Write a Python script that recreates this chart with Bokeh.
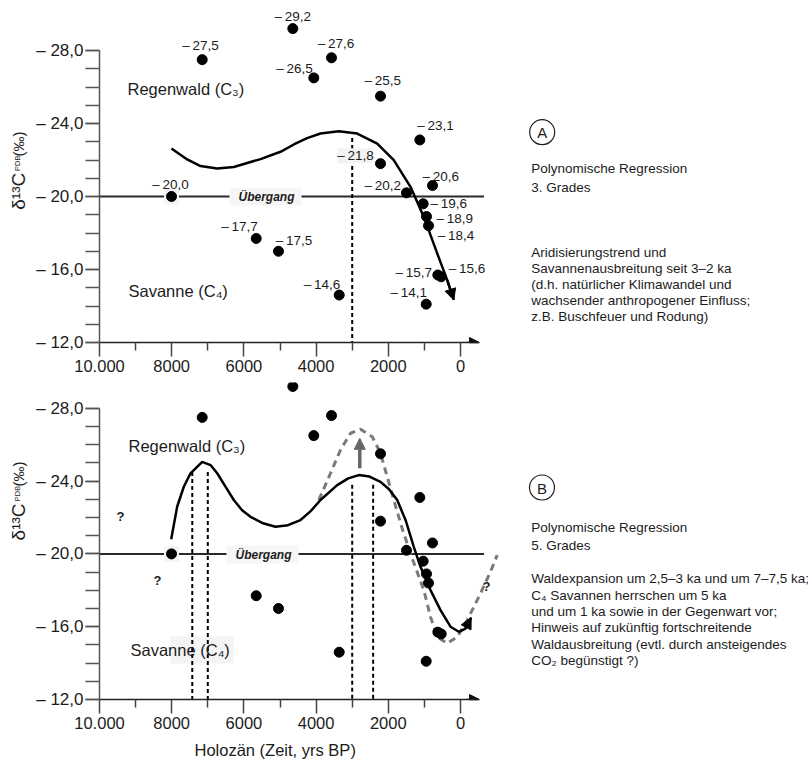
import math
from bokeh.plotting import figure
from bokeh.models import Range1d, FixedTicker, Label, Arrow, NormalHead
from bokeh.layouts import column, row
from bokeh.embed import file_html
from bokeh.resources import INLINE
from bokeh.core.properties import value

# ---------------- data ----------------
age = [8005, 7155, 5659, 5042, 4645, 4064, 3573, 3360, 2216, 2216,
       1496, 1127, 1034, 950, 942, 886, 776, 628, 535]
d13c = [-20.0, -27.5, -17.7, -17.0, -29.2, -26.5, -27.6, -14.6, -25.5, -21.8,
        -20.2, -23.1, -19.6, -14.1, -18.9, -18.4, -20.6, -15.7, -15.6]
point_labels = ["20,0", "27,5", "17,7", "17,5", "29,2", "26,5", "27,6", "14,6", "25,5", "21,8",
                "20,2", "23,1", "19,6", "14,1", "18,9", "18,4", "20,6", "15,7", "15,6"]

# polynomial regression, 3rd degree (panel A)
fit3_age = [8006, 7571, 7202, 6740, 6280, 5540, 4986, 4617, 4250, 3878, 3371,
            2862, 2307, 1848, 1385, 1016, 645, 368, 185]
fit3_val = [-22.63, -22.03, -21.67, -21.53, -21.62, -22.05, -22.45, -22.85, -23.2, -23.45, -23.58,
            -23.45, -22.9, -21.99, -20.53, -18.88, -16.88, -15.42, -14.33]

# polynomial regression, 5th degree (panel B)
fit5_age = [8014, 7849, 7665, 7479, 7155, 6925, 6740, 6510, 6280, 6050, 5817, 5470, 5125,
            4780, 4432, 4150, 3878, 3416, 3110, 2817, 2520, 2216, 1980, 1753, 1520, 1294,
            1108, 831, 554, 277, 47, -139, -296]
fit5_val = [-20.8, -22.59, -23.69, -24.43, -25.06, -24.88, -24.43, -23.7, -22.96, -22.4,
            -22.04, -21.68, -21.49, -21.58, -21.86, -22.35, -22.96, -23.78, -24.15, -24.33,
            -24.25, -23.96, -23.55, -22.96, -21.85, -20.39, -19.29, -18.01, -16.91, -16.0,
            -15.72, -15.9, -16.5]

# projected (grey dashed) curve, panel B
proj_age = [3925, 3601, 3324, 3047, 2770, 2446, 2216, 2031, 1848, 1600, 1338, 1016, 831,
            645, 368, 91, -186, -554, -831, -1017]
proj_val = [-22.96, -24.43, -25.71, -26.63, -26.85, -26.44, -25.53, -24.24, -22.96, -21.3,
            -19.75, -18.01, -16.54, -15.44, -15.08, -15.44, -16.36, -17.83, -19.02, -19.93]

# dashed markers of forest phases
markA_age = [3000]
markA_top = [-23.2]
markB_age = [7430, 7000, 3000, 2420]
markB_top = [-24.5, -24.5, -23.8, -23.8]

# grey shift arrow (panel B)
shift_age = [2790]
shift_from = [-24.7]
shift_to = [-26.35]

transition_level = -20.0
transition_end_age = -650

x_ticks = [10000, 8000, 6000, 4000, 2000, 0]
x_tick_labels = ["10.000", "8000", "6000", "4000", "2000", "0"]
x_minor = [9000, 7000, 5000, 3000, 1000]
y_ticks = [-28, -24, -20, -16, -12]
y_tick_labels = ["\u2013 28,0", "\u2013 24,0", "\u2013 20,0", "\u2013 16,0", "\u2013 12,0"]
y_minor = list(range(-28, -11))

# label placement (style, in screen px relative to each dot)
lab_dx = [-19.3, -20, -35, -2.7, -18.3, -37.6, -13.7, -35.4, -16, -43.3,
          -42, -2.6, 7.3, -35.7, 10, 9.3, -10, -42.3, 7.6]
lab_dy = [-12, -14, -12, -11, -12, -9, -14, -11, -16, -8,
          -7, -14, 0, -12, 2, 10, -9, -2, -8]
boxed_label = 9   # "21,8" sits on a light box

# ---------------- style ----------------
FONT = "Liberation Sans"
INK = "#1c1c1c"
PAGE_W = 808
SIDE_W = 33              # strip holding the rotated y-axis title
FRAME_LEFT = 99          # page px of x = 10000
PX_PER_YR = 0.0361
X_END = 10000 - (PAGE_W - FRAME_LEFT) / PX_PER_YR


def X(px):
    return 10000 - (px - FRAME_LEFT) / PX_PER_YR


def bare(width, height):
    """A plain drawing area whose data units are page pixels (y down)."""
    q = figure(width=width, height=height, x_range=Range1d(0, width),
               y_range=Range1d(height, 0), output_backend="svg", toolbar_location=None,
               min_border=0, outline_line_color=None)
    q.axis.visible = False
    q.grid.visible = False
    return q


def make_panel(height, border_top, border_bottom, frame_top, frame_bottom, scale):
    y_end = -12 - (frame_bottom - frame_top) / scale
    p = figure(width=PAGE_W - SIDE_W, height=height, x_range=Range1d(10000, X_END),
               y_range=Range1d(-12, y_end), output_backend="svg", toolbar_location=None,
               min_border_left=FRAME_LEFT - SIDE_W, min_border_right=0, min_border_top=border_top,
               min_border_bottom=border_bottom, outline_line_color=None,
               background_fill_color="white", border_fill_color="white")
    p.grid.visible = False
    xa = p.xaxis[0]
    xa.ticker = FixedTicker(ticks=x_ticks, minor_ticks=x_minor)
    xa.major_label_overrides = {t: l for t, l in zip(x_ticks, x_tick_labels)}
    xa.bounds = (-499, 10000)
    xa.axis_line_color = "#222222"
    xa.axis_line_width = 1.5
    xa.major_tick_out = 14
    xa.major_tick_in = 0
    xa.minor_tick_out = 8
    xa.minor_tick_in = 0
    xa.major_tick_line_color = "#444444"
    xa.minor_tick_line_color = "#444444"
    xa.major_tick_line_width = 1.5
    xa.minor_tick_line_width = 1.5
    xa.major_label_text_font = FONT
    xa.major_label_text_font_size = "16.5px"
    xa.major_label_text_color = INK
    xa.major_label_standoff = 3

    ya = p.yaxis[0]
    ya.ticker = FixedTicker(ticks=y_ticks, minor_ticks=y_minor)
    ya.major_label_overrides = {t: l for t, l in zip(y_ticks, y_tick_labels)}
    ya.bounds = (-28, -12)
    ya.axis_line_color = "#555555"
    ya.axis_line_width = 1.5
    ya.major_tick_out = 14
    ya.major_tick_in = 0
    ya.minor_tick_out = 14
    ya.minor_tick_in = 0
    ya.major_tick_line_color = "#555555"
    ya.minor_tick_line_color = "#555555"
    ya.major_tick_line_width = 1.3
    ya.minor_tick_line_width = 1.3
    ya.major_label_text_font = FONT
    ya.major_label_text_font_size = "17px"
    ya.major_label_text_color = INK
    ya.major_label_standoff = 2

    def Y(py):
        return -12 - (frame_bottom - py) / scale

    # arrow head of the time axis
    p.add_layout(Arrow(end=NormalHead(size=10, fill_color="#111111", line_color="#111111"),
                       x_start=X(466), y_start=-12, x_end=X(479), y_end=-12,
                       line_color="#222222", line_width=1.5))
    return p, Y


def lab(p, x, y, text, size="13.5px", align="left", baseline="middle",
        style="normal", angle=0.0, color=INK):
    p.add_layout(Label(x=x, y=y, text=text, text_font=FONT, text_font_size=size,
                       text_align=align, text_baseline=baseline, text_font_style=style,
                       angle=angle, text_color=color))


def common(p, Y, ub_left, ub_right, ub_top, ub_bot, ub_cx, ub_cy):
    # transition line
    p.segment(x0=[10000], y0=[transition_level], x1=[transition_end_age], y1=[transition_level],
              line_color="#2a2a2a", line_width=2)
    p.quad(left=[X(ub_left)], right=[X(ub_right)], top=[Y(ub_top)], bottom=[Y(ub_bot)],
           fill_color="#f6f6f6", line_color=None)
    lab(p, X(ub_cx), Y(ub_cy), "\u00dcbergang", size="12px", align="center", style="bold italic")
    p.rect(x=[age[0]], y=[d13c[0]], width=15, height=16, width_units="screen",
           height_units="screen", fill_color="#f4f4f4", line_color=None)


def ylabel(q, offset):
    half = math.pi / 2
    lab(q, 17.5, 209 + offset, "\u03b4\u00b9\u00b3C", size="19px", align="center",
        baseline="middle", angle=half)
    lab(q, 17, 177 + offset, "PDB", size="7.5px", align="center", baseline="middle", angle=half)
    lab(q, 17.5, 155 + offset, "(\u2030)", size="15px", align="center", baseline="middle",
        angle=half)


# ================= panel A (page y 0..382) =================
pA, YA = make_panel(382, 8, 40, 8, 342, 18.25)
common(pA, YA, 229, 301, 187, 205, 266, 196)
pA.line(fit3_age, fit3_val, line_color="black", line_width=2.5)
pA.add_layout(Arrow(end=NormalHead(size=11, fill_color="black", line_color="black"),
                    x_start=fit3_age[-2], y_start=fit3_val[-2],
                    x_end=fit3_age[-1], y_end=fit3_val[-1],
                    line_color="black", line_width=2.5))
pA.segment(x0=markA_age, y0=markA_top, x1=markA_age, y1=[-12] * len(markA_age),
           line_color="black", line_width=2, line_dash="4 3")
pA.scatter(age, d13c, size=10, color="black")
texts = ["\u2013\u2009" + s for s in point_labels]
pA.text(x=[age[boxed_label]], y=[d13c[boxed_label]], text=[texts[boxed_label]],
        x_offset=[lab_dx[boxed_label]], y_offset=[lab_dy[boxed_label]],
        text_font=value(FONT), text_font_size="13.5px", text_align="left",
        text_baseline="middle", text_color=INK, background_fill_color="#f3f3f3")
others = [i for i in range(len(age)) if i != boxed_label]
pA.text(x=[age[i] for i in others], y=[d13c[i] for i in others], text=[texts[i] for i in others],
        x_offset=[lab_dx[i] for i in others], y_offset=[lab_dy[i] for i in others],
        text_font=value(FONT), text_font_size="13.5px",
        text_align="left", text_baseline="middle", text_color=INK)
lab(pA, X(127), YA(88), "Regenwald (C\u2083)", size="16.5px")
lab(pA, X(128), YA(290), "Savanne (C\u2084)", size="16.5px")

pA.scatter(x=[X(541.7)], y=[YA(131.7)], size=25, marker="circle", fill_color=None,
           line_color=INK, line_width=1.2)
lab(pA, X(541.7), YA(132), "A", size="15px", align="center")
lab(pA, X(530.7), YA(168.3), "Polynomische Regression")
lab(pA, X(530.7), YA(187.3), "3. Grades")
for i, t in enumerate(["Aridisierungstrend und",
                       "Savannenausbreitung seit 3\u20132 ka",
                       "(d.h. nat\u00fcrlicher Klimawandel und",
                       "wachsender anthropogener Einfluss;",
                       "z.B. Buschfeuer und Rodung)"]):
    lab(pA, X(530.7), YA(251.7 + 16 * i), t)

sideA = bare(SIDE_W, 382)
ylabel(sideA, 0)

# ================= panel B (page y 382..739) =================
TOP_B = 382
pB, YB = make_panel(357, 0, 40, TOP_B, 699, 18.2)
common(pB, YB, 226, 298, 545, 563, 263, 554)
pB.quad(left=[X(170)], right=[X(233)], top=[YB(636)], bottom=[YB(663)],
        fill_color="#f4f4f4", line_color=None)
pB.line(proj_age, proj_val, line_color="#7a7a7a", line_width=3, line_dash="7 5")
pB.segment(x0=markB_age, y0=markB_top, x1=markB_age, y1=[-12] * len(markB_age),
           line_color="black", line_width=2, line_dash="4 3")
pB.line(fit5_age, fit5_val, line_color="black", line_width=2.5)
pB.add_layout(Arrow(end=NormalHead(size=11, fill_color="black", line_color="black"),
                    x_start=fit5_age[-2], y_start=fit5_val[-2],
                    x_end=fit5_age[-1], y_end=fit5_val[-1],
                    line_color="black", line_width=2.5))
pB.add_layout(Arrow(end=NormalHead(size=11, fill_color="#666666", line_color="#666666"),
                    x_start=shift_age[0], y_start=shift_from[0],
                    x_end=shift_age[0], y_end=shift_to[0],
                    line_color="#666666", line_width=3.5))
pB.scatter(age, d13c, size=10, color="black")
lab(pB, X(128), YB(445), "Regenwald (C\u2083)", size="16.5px")
lab(pB, X(130), YB(649), "Savanne (C\u2084)", size="16.5px")
for (qx, qy) in [(120, 516), (157, 580), (486, 586)]:
    lab(pB, X(qx), YB(qy), "?", size="13px", align="center", style="bold")

pB.scatter(x=[X(541.5)], y=[YB(487)], size=25, marker="circle", fill_color=None,
           line_color=INK, line_width=1.2)
lab(pB, X(541.5), YB(487.5), "B", size="15px", align="center")
lab(pB, X(530.7), YB(526.7), "Polynomische Regression")
lab(pB, X(530.7), YB(545), "5. Grades")
for i, t in enumerate(["Waldexpansion um 2,5\u20133 ka und um 7\u20137,5 ka;",
                       "C\u2084 Savannen herrschen um 5 ka",
                       "und um 1 ka sowie in der Gegenwart vor;",
                       "Hinweis auf zuk\u00fcnftig fortschreitende",
                       "Waldausbreitung (evtl. durch ansteigendes",
                       "CO\u2082 beg\u00fcnstigt ?)"]):
    lab(pB, X(530.7), YB(578.3 + 16.3 * i), t)

sideB = bare(SIDE_W, 357)
ylabel(sideB, 330 - TOP_B)

# ================= x-axis title strip (page y 739..763) =================
TOP_T = 739
title_strip = bare(PAGE_W, 24)
lab(title_strip, 194, 749 - TOP_T, "Holoz\u00e4n (Zeit, yrs BP)", size="16.5px")

layout = column(row(sideA, pA, spacing=0), row(sideB, pB, spacing=0), title_strip, spacing=0)
open("out.html", "w").write(file_html(layout, INLINE))
